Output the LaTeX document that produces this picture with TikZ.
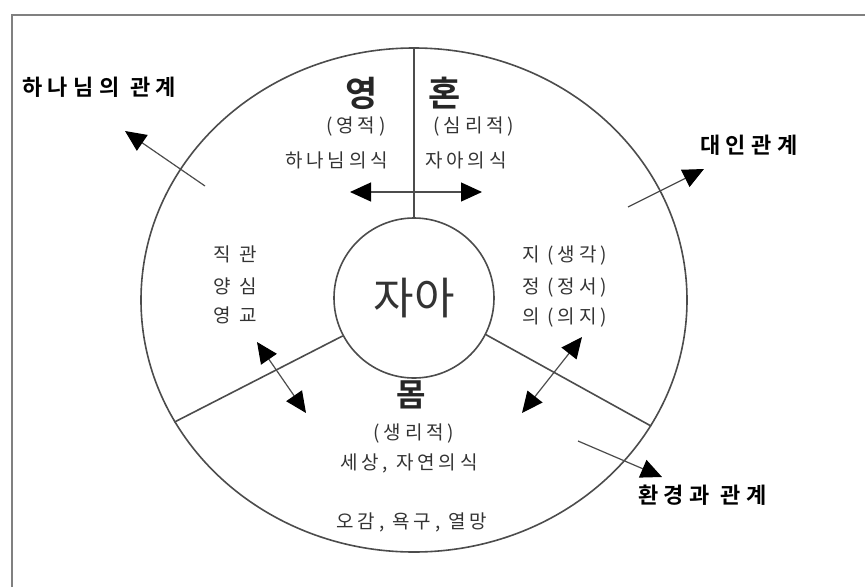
\documentclass[tikz,border=0pt]{standalone}
\usepackage{fontspec}
\setmainfont{Noto Sans CJK KR}
\newfontfamily\krreg[LetterSpace=20]{Noto Sans CJK KR}
\newfontfamily\krbold[LetterSpace=25]{Noto Sans CJK KR Bold}
\usetikzlibrary{arrows.meta,shapes.geometric}
\begin{document}
\begin{tikzpicture}[x=1pt,y=-1pt,
  ring/.style={draw=black!70, line width=1.6pt},
  divider/.style={draw=black!70, line width=1.6pt},
  tip/.style={},
  conn/.style={draw=black!70, line width=1.2pt, -{Triangle[length=21pt,width=19pt,color=black]}},
  dconn/.style={draw=black!70, line width=1.2pt, {Triangle[length=21pt,width=19pt,color=black]}-{Triangle[length=21pt,width=19pt,color=black]}},
  lbl/.style={inner sep=0pt, text=black!80, font=\krreg\fontsize{19}{22}\selectfont},
  outlbl/.style={inner sep=0pt, text=black, font=\krbold\fontsize{22}{26}\selectfont},
  big/.style={inner sep=0pt, text=black!85, font=\krbold\fontsize{35}{40}\selectfont},
  frameline/.style={draw=black!50, line width=2.5pt}
]
\useasboundingbox (0,0) rectangle (865,587);
% frame
\draw[frameline] (12,587) -- (12,15) -- (865,15);
% circles
\node[ring, ellipse, minimum width=546pt, minimum height=504pt, inner sep=0pt] (outer) at (414,300) {};
\node[ring, circle, minimum size=160pt, inner sep=0pt, text=black!80,
      font=\fontsize{44}{48}\selectfont] (self) at (414,298) {자아};
% dividers
\draw[divider] (self.north) -- (outer.north);
\draw[divider] (self.208) -- (outer.207);
\draw[divider] (self.333) -- (outer.332);
% labels
\node[outlbl, anchor=west] (godrel) at (22,87) {하나님의 관계};
\node[outlbl, anchor=west] (people) at (700,145) {대인관계};
\node[outlbl, anchor=west] (env) at (638,495) {환경과 관계};

\node[big] (spirit) at (362,93) {영};
\node[big] (soul) at (445,93) {혼};
\node[lbl] (spiritA) at (356,127) {(영적)};
\node[lbl] (soulA) at (474,127) {(심리적)};
\node[lbl, anchor=east] (spiritB) at (388,160) {하나님의식};
\node[lbl, anchor=west] (soulB) at (425,160) {자아의식};

\node[lbl] (c1) at (235,254) {직 관};
\node[lbl] (c2) at (235,286) {양 심};
\node[lbl] (c3) at (235,315) {영 교};

\node[lbl, anchor=west] (m1) at (522,255) {지 (생각)};
\node[lbl, anchor=west] (m2) at (522,287) {정 (정서)};
\node[lbl, anchor=west] (m3) at (522,317) {의 (의지)};

\node[big, font=\krbold\fontsize{32}{36}\selectfont] (body) at (411,395) {몸};
\node[lbl] (bodyA) at (414,433) {(생리적)};
\node[lbl] (bodyB) at (409,463) {세상, 자연의식};
\node[lbl] (bodyC) at (412,522) {오감, 욕구, 열망};

% arrow end points
\coordinate (g0) at (205,186);
\coordinate (g1) at (125,131);
\coordinate (p0) at (628,207);
\coordinate (p1) at (704,169);
\coordinate (e0) at (578,441);
\coordinate (e1) at (662,477);
\coordinate (h0) at (350,192);
\coordinate (h1) at (482,192);
\coordinate (l0) at (257,342);
\coordinate (l1) at (306,413);
\coordinate (r0) at (582,337);
\coordinate (r1) at (522,413);

\draw[conn] (g0) -- (g1);
\draw[conn] (p0) -- (p1);
\draw[conn] (e0) -- (e1);
\draw[dconn] (h0) -- (h1);
\draw[dconn] (l0) -- (l1);
\draw[dconn] (r0) -- (r1);
\end{tikzpicture}
\end{document}
